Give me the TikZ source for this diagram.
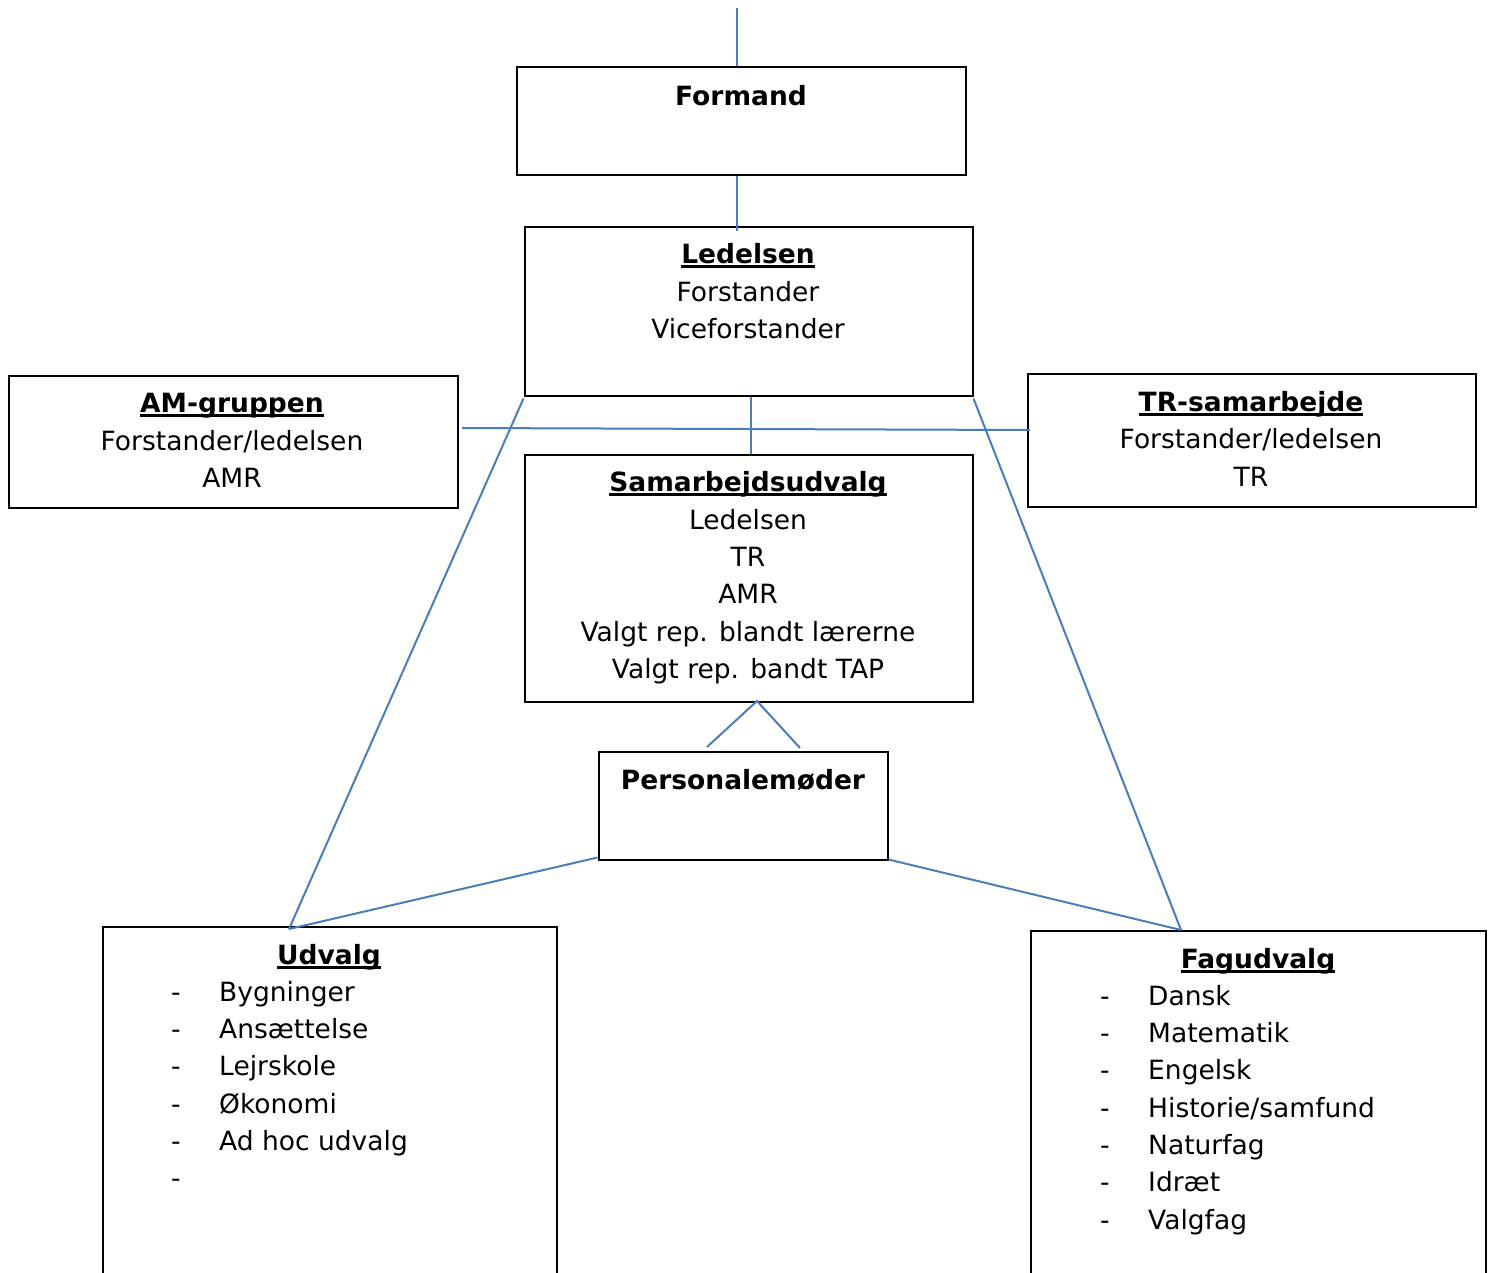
\documentclass[tikz,border=0pt]{standalone}
\usepackage{fontspec}
\setmainfont{DejaVu Sans}
\definecolor{connblue}{HTML}{4A7EBB}
\newcommand\fsz{\fontsize{26.5}{37.3}\selectfont}
\newcommand\ulx[1]{\setbox0\hbox{#1}\rlap{\rule[-4.6pt]{\wd0}{2.4pt}}\box0}
\tikzset{
  box/.style={draw=black, line width=2pt, anchor=north west, inner sep=0pt},
  conn/.style={draw=connblue, line width=2pt},
  txt/.style={anchor=base, inner sep=0pt, font=\fsz},
  itm/.style={anchor=base west, inner sep=0pt, font=\fsz},
}
\begin{document}
\begin{tikzpicture}[x=1pt,y=-1pt]
\useasboundingbox (0,0) rectangle (1491,1272);
% boxes
\node[box, minimum width=449pt, minimum height=108pt] (formand) at (515.5,65.5) {};
\node[box, minimum width=448pt, minimum height=169pt] (ledelsen) at (523.5,225.5) {};
\node[box, minimum width=449pt, minimum height=132pt] (amgr) at (7.5,374.5) {};
\node[box, minimum width=448pt, minimum height=133pt] (trsam) at (1026.5,372.5) {};
\node[box, minimum width=448pt, minimum height=247pt] (samarb) at (523.5,453.5) {};
\node[box, minimum width=289pt, minimum height=108pt] (pers) at (597.5,750.5) {};
\node[box, minimum width=454pt, minimum height=360pt] (udvalg) at (101.5,925.5) {};
\node[box, minimum width=455pt, minimum height=360pt] (fagudv) at (1029.5,929.5) {};
% texts
\node[txt] (tformand) at (741,105) {\textbf{Formand}};
\node[txt] (tled1) at (748,263) {\ulx{\textbf{Ledelsen}}};
\node[txt] (tled2) at (748,301) {Forstander};
\node[txt] (tled3) at (748,338) {Viceforstander};
\node[txt] (tam1) at (232,412) {\ulx{\textbf{AM-gruppen}}};
\node[txt] (tam2) at (232,450) {Forstander/ledelsen};
\node[txt] (tam3) at (232,487) {AMR};
\node[txt] (ttr1) at (1251,411) {\ulx{\textbf{TR-samarbejde}}};
\node[txt] (ttr2) at (1251,448) {Forstander/ledelsen};
\node[txt] (ttr3) at (1251,486) {TR};
\node[txt] (ts1) at (748,491) {\ulx{\textbf{Samarbejdsudvalg}}};
\node[txt] (ts2) at (748,529) {Ledelsen};
\node[txt] (ts3) at (748,566) {TR};
\node[txt] (ts4) at (748,603) {AMR};
\node[txt] (ts5) at (748,641) {Valgt rep. blandt lærerne};
\node[txt] (ts6) at (748,678) {Valgt rep. bandt TAP};
\node[txt] (tpers) at (743,789) {\textbf{Personalemøder}};
\node[txt] (tudv) at (329,964) {\ulx{\textbf{Udvalg}}};
\foreach \t [count=\i] in {Bygninger,Ansættelse,Lejrskole,Økonomi,Ad hoc udvalg,{}} {
  \node[itm] (ud\i) at (171,{964+37.3*\i}) {\makebox[48pt][l]{-}\t};
}
\node[txt] (tfag) at (1258,968) {\ulx{\textbf{Fagudvalg}}};
\foreach \t [count=\i] in {Dansk,Matematik,Engelsk,Historie/samfund,Naturfag,Idræt,Valgfag} {
  \node[itm] (fg\i) at (1100,{968+37.3*\i}) {\makebox[48pt][l]{-}\t};
}
% connector coordinates
\coordinate (top) at (737,8);
\coordinate (hl) at (462,428);
\coordinate (hr) at (1030,430);
\coordinate (vx) at (751,0);
\coordinate (uin) at (289,929);
\coordinate (fin) at (1181,930);
\coordinate (apex) at (757,701);
\coordinate (pl) at (707,747);
\coordinate (pr) at (800,748);
% connectors
\draw[conn] (top) -- (top |- formand.north);
\draw[conn] (top |- formand.south) -- ([yshift=-5pt]top |- ledelsen.north);
\draw[conn] (hl) -- (hr);
\draw[conn] (vx |- ledelsen.south) -- (vx |- samarb.north);
\draw[conn] ([yshift=-2pt]ledelsen.south west) -- (uin);
\draw[conn] ([yshift=-2pt]ledelsen.south east) -- (fin);
\draw[conn] (pl) -- (apex) -- (pr);
\draw[conn] ([yshift=3pt]pers.south west) -- (uin);
\draw[conn] ([yshift=1pt]pers.south east) -- (fin);
\end{tikzpicture}
\end{document}
